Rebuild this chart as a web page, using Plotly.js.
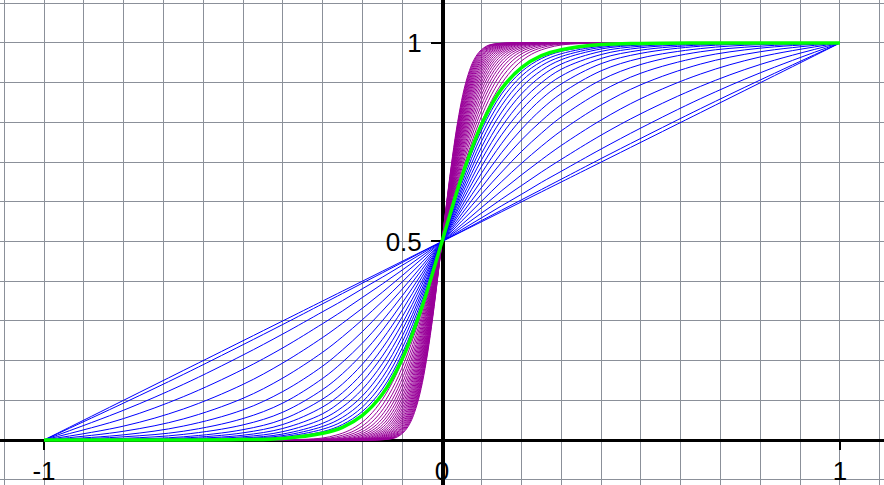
<!DOCTYPE html>
<html>
<head>
<meta charset="utf-8">
<script src="https://cdn.plot.ly/plotly-3.0.1.min.js"></script>
<style>
  html, body { margin: 0; padding: 0; background: #ffffff; }
  #chart { width: 884px; height: 485px; }
</style>
</head>
<body>
<div id="chart"></div>
<script>
// ---------------- data (right half; the figure is point-symmetric about (0, 0.5)) ----------------
const xTickVals = [-1, 0, 1];
const xTickText = ['-1', '0', '1'];
const yTickVals = [0.5, 1];
const yTickText = ['0.5', '1'];

// shared x positions for the blue family and the green curve
const blueX = [0, 0.05, 0.1, 0.15, 0.2, 0.25, 0.3, 0.4, 0.5, 0.65, 0.8, 1];

// blue curves, from the straight line to the steepest blue one
const blue01 = [0.5, 0.525, 0.55, 0.575, 0.6, 0.625, 0.65, 0.7, 0.75, 0.825, 0.9, 1];
const blue02 = [0.5, 0.526, 0.553, 0.579, 0.605, 0.631, 0.657, 0.709, 0.760, 0.835, 0.907, 1];
const blue03 = [0.5, 0.530, 0.560, 0.590, 0.619, 0.649, 0.677, 0.733, 0.786, 0.860, 0.925, 1];
const blue04 = [0.5, 0.536, 0.572, 0.607, 0.641, 0.675, 0.707, 0.768, 0.822, 0.891, 0.946, 1];
const blue05 = [0.5, 0.543, 0.586, 0.628, 0.668, 0.706, 0.742, 0.806, 0.860, 0.922, 0.965, 1];
const blue06 = [0.5, 0.552, 0.602, 0.651, 0.697, 0.740, 0.779, 0.844, 0.895, 0.947, 0.978, 1];
const blue07 = [0.5, 0.561, 0.620, 0.675, 0.727, 0.773, 0.814, 0.878, 0.924, 0.965, 0.987, 1];
const blue08 = [0.5, 0.570, 0.637, 0.700, 0.756, 0.804, 0.845, 0.907, 0.946, 0.978, 0.992, 1];
const blue09 = [0.5, 0.580, 0.655, 0.724, 0.783, 0.833, 0.873, 0.930, 0.962, 0.986, 0.996, 1];
const blue10 = [0.5, 0.589, 0.673, 0.747, 0.809, 0.859, 0.897, 0.948, 0.974, 0.992, 0.998, 1];
const blue11 = [0.5, 0.599, 0.690, 0.769, 0.832, 0.881, 0.917, 0.961, 0.982, 0.995, 0.999, 1];
const blue12 = [0.5, 0.608, 0.707, 0.789, 0.853, 0.900, 0.934, 0.971, 0.988, 0.997, 0.999, 1];
const blue13 = [0.5, 0.618, 0.723, 0.808, 0.872, 0.917, 0.947, 0.979, 0.992, 0.998, 1, 1];
const blue14 = [0.5, 0.627, 0.739, 0.826, 0.889, 0.931, 0.958, 0.985, 0.995, 0.999, 1, 1];
const blue15 = [0.5, 0.636, 0.754, 0.843, 0.904, 0.943, 0.966, 0.989, 0.996, 0.999, 1, 1];
const blue16 = [0.5, 0.646, 0.769, 0.858, 0.917, 0.953, 0.973, 0.992, 0.998, 1, 1, 1];
const blue17 = [0.5, 0.655, 0.782, 0.872, 0.928, 0.961, 0.979, 0.994, 0.998, 1, 1, 1];

// the highlighted green curve
const greenY = [0.5, 0.664, 0.796, 0.885, 0.938, 0.968, 0.983, 0.996, 0.999, 1, 1, 1];

// purple family: shared levels, and the x where each curve reaches them
const purpleY = [0.5, 0.611, 0.714, 0.802, 0.871, 0.921, 0.955, 0.976, 0.988, 0.995, 0.9985, 1, 1];
const purple01 = [0, 0.0333, 0.0667, 0.1, 0.1333, 0.1667, 0.2, 0.2333, 0.2667, 0.3, 0.35, 0.4333, 1];
const purple02 = [0, 0.0313, 0.0625, 0.0938, 0.125, 0.1563, 0.1875, 0.2188, 0.25, 0.2813, 0.3281, 0.4063, 1];
const purple03 = [0, 0.0294, 0.0588, 0.0882, 0.1176, 0.1471, 0.1765, 0.2059, 0.2353, 0.2647, 0.3088, 0.3824, 1];
const purple04 = [0, 0.0278, 0.0556, 0.0833, 0.1111, 0.1389, 0.1667, 0.1944, 0.2222, 0.25, 0.2917, 0.3611, 1];
const purple05 = [0, 0.0263, 0.0526, 0.0789, 0.1053, 0.1316, 0.1579, 0.1842, 0.2105, 0.2368, 0.2763, 0.3421, 1];
const purple06 = [0, 0.025, 0.05, 0.075, 0.1, 0.125, 0.15, 0.175, 0.2, 0.225, 0.2625, 0.325, 1];
const purple07 = [0, 0.0238, 0.0476, 0.0714, 0.0952, 0.119, 0.1429, 0.1667, 0.1905, 0.2143, 0.25, 0.3095, 1];
const purple08 = [0, 0.0227, 0.0455, 0.0682, 0.0909, 0.1136, 0.1364, 0.1591, 0.1818, 0.2045, 0.2386, 0.2955, 1];
const purple09 = [0, 0.0217, 0.0435, 0.0652, 0.087, 0.1087, 0.1304, 0.1522, 0.1739, 0.1957, 0.2283, 0.2826, 1];
const purple10 = [0, 0.0208, 0.0417, 0.0625, 0.0833, 0.1042, 0.125, 0.1458, 0.1667, 0.1875, 0.2188, 0.2708, 1];
const purple11 = [0, 0.02, 0.04, 0.06, 0.08, 0.1, 0.12, 0.14, 0.16, 0.18, 0.21, 0.26, 1];
const purple12 = [0, 0.0192, 0.0385, 0.0577, 0.0769, 0.0962, 0.1154, 0.1346, 0.1538, 0.1731, 0.2019, 0.25, 1];
const purple13 = [0, 0.0185, 0.037, 0.0556, 0.0741, 0.0926, 0.1111, 0.1296, 0.1481, 0.1667, 0.1944, 0.2407, 1];
const purple14 = [0, 0.0179, 0.0357, 0.0536, 0.0714, 0.0893, 0.1071, 0.125, 0.1429, 0.1607, 0.1875, 0.2321, 1];
const purple15 = [0, 0.0172, 0.0345, 0.0517, 0.069, 0.0862, 0.1034, 0.1207, 0.1379, 0.1552, 0.181, 0.2241, 1];
const purple16 = [0, 0.0167, 0.0333, 0.05, 0.0667, 0.0833, 0.1, 0.1167, 0.1333, 0.15, 0.175, 0.2167, 1];
const purple17 = [0, 0.0161, 0.0323, 0.0484, 0.0645, 0.0806, 0.0968, 0.1129, 0.129, 0.1452, 0.1694, 0.2097, 1];
const purple18 = [0, 0.0156, 0.0313, 0.0469, 0.0625, 0.0781, 0.0938, 0.1094, 0.125, 0.1406, 0.1641, 0.2031, 1];
const purple19 = [0, 0.0152, 0.0303, 0.0455, 0.0606, 0.0758, 0.0909, 0.1061, 0.1212, 0.1364, 0.1591, 0.197, 1];
const purple20 = [0, 0.0147, 0.0294, 0.0441, 0.0588, 0.0735, 0.0882, 0.1029, 0.1176, 0.1324, 0.1544, 0.1912, 1];
const purple21 = [0, 0.0143, 0.0286, 0.0429, 0.0571, 0.0714, 0.0857, 0.1, 0.1143, 0.1286, 0.15, 0.1857, 1];
const purple22 = [0, 0.0139, 0.0278, 0.0417, 0.0556, 0.0694, 0.0833, 0.0972, 0.1111, 0.125, 0.1458, 0.1806, 1];
const purple23 = [0, 0.0135, 0.027, 0.0405, 0.0541, 0.0676, 0.0811, 0.0946, 0.1081, 0.1216, 0.1419, 0.1757, 1];
const purple24 = [0, 0.0132, 0.0263, 0.0395, 0.0526, 0.0658, 0.0789, 0.0921, 0.1053, 0.1184, 0.1382, 0.1711, 1];

const blueCurves = [blue01, blue02, blue03, blue04, blue05, blue06, blue07, blue08, blue09,
                    blue10, blue11, blue12, blue13, blue14, blue15, blue16, blue17];
const purpleCurves = [purple01, purple02, purple03, purple04, purple05, purple06, purple07, purple08,
                      purple09, purple10, purple11, purple12, purple13, purple14, purple15, purple16,
                      purple17, purple18, purple19, purple20, purple21, purple22, purple23, purple24];

// ---------------- styles ----------------
const BLUE = '#0000ff';
const PURPLE = '#990099';
const GREEN = '#00ff00';
const GRID = '#8b9099';
const FONT = 'Liberation Sans, Arial, sans-serif';

// the right half mirrored through the centre (0, 0.5) gives the left half
function fullCurve(xs, ys) {
  const X = [], Y = [];
  for (let i = xs.length - 1; i > 0; i--) { X.push(-xs[i]); Y.push(1 - ys[i]); }
  for (let i = 0; i < xs.length; i++) { X.push(xs[i]); Y.push(ys[i]); }
  return { X, Y };
}

function lineTrace(xs, ys, color, width) {
  const c = fullCurve(xs, ys);
  return {
    type: 'scatter', mode: 'lines', x: c.X, y: c.Y,
    line: { color: color, width: width, shape: 'spline', smoothing: 1 },
    hoverinfo: 'skip', showlegend: false
  };
}

const traces = [];
blueCurves.forEach(ys => traces.push(lineTrace(blueX, ys, BLUE, 1)));
purpleCurves.forEach(xs => traces.push(lineTrace(xs, purpleY, PURPLE, 1)));
traces.push(lineTrace(blueX, greenY, GREEN, 3.5));

const X0 = -1.1106, X1 = 1.1106, Y0 = -0.1134, Y1 = 1.1083;

const layout = {
  width: 884, height: 485,
  margin: { l: 0, r: 0, t: 0, b: 0, pad: 0 },
  paper_bgcolor: '#ffffff', plot_bgcolor: '#ffffff',
  showlegend: false,
  xaxis: {
    range: [X0, X1], fixedrange: true,
    tickmode: 'array', tickvals: xTickVals, ticktext: xTickText,
    showgrid: true, gridcolor: GRID, gridwidth: 1,
    minor: { tickmode: 'linear', tick0: 0, dtick: 0.1, showgrid: true, gridcolor: GRID, gridwidth: 1 },
    zeroline: false,
    showline: true, linecolor: '#000000', linewidth: 3.5,
    anchor: 'free', position: (0 - Y0) / (Y1 - Y0),
    ticks: 'outside', ticklen: 8, tickwidth: 2, tickcolor: '#000000',
    ticklabelstandoff: -2,
    tickfont: { family: FONT, size: 26, color: '#000000' },
    layer: 'below traces'
  },
  yaxis: {
    range: [Y0, Y1], fixedrange: true,
    tickmode: 'array', tickvals: yTickVals, ticktext: yTickText,
    showgrid: true, gridcolor: GRID, gridwidth: 1,
    minor: { tickmode: 'linear', tick0: 0, dtick: 0.1, showgrid: true, gridcolor: GRID, gridwidth: 1 },
    zeroline: false,
    showline: true, linecolor: '#000000', linewidth: 3.5,
    anchor: 'free', position: (0 - X0) / (X1 - X0),
    ticks: 'outside', ticklen: 10, tickwidth: 2, tickcolor: '#000000',
    ticklabelstandoff: 4,
    tickfont: { family: FONT, size: 26, color: '#000000' },
    layer: 'below traces'
  }
};

Plotly.newPlot('chart', traces, layout, { staticPlot: true, displayModeBar: false });
</script>
</body>
</html>
